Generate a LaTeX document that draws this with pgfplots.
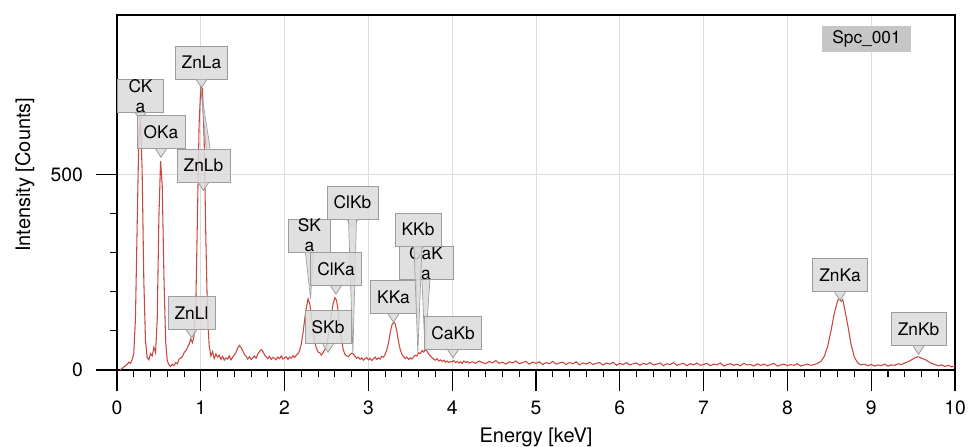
\documentclass[border=0pt]{standalone}
\usepackage{fontspec}
\setmainfont{TeX Gyre Heros}
\usepackage{pgfplots}
\pgfplotsset{compat=1.18}
\definecolor{spec}{HTML}{C9473E}
\definecolor{grd}{HTML}{DCDCDC}
\definecolor{labf}{HTML}{DADADA}
\definecolor{labd}{HTML}{9C9C9C}
\definecolor{tagf}{HTML}{C6C6C6}
\tikzset{
  lab/.style={draw=labd, fill=labf, fill opacity=0.85, text opacity=1, line width=0.6pt,
    inner xsep=5pt, inner ysep=0pt, minimum height=24.75pt, font=\fontsize{13}{15}\selectfont},
  notch/.style={fill=labf, fill opacity=0.85, draw=labd, line width=0.6pt},
}
% box label with a short notch under it
\newcommand{\peak}[4]{%
  \node[lab] (#3) at (axis cs:#1,#2) {#4};
  \path[notch] ([xshift=-4pt]#3.south) -- ([yshift=-6pt]#3.south) -- ([xshift=4pt]#3.south);
}
% two-line (wrapped) box label
\newcommand{\wpeak}[6]{%
  \node[lab, minimum width=#5] (#3) at (axis cs:#1,#2) {};
  \begin{scope}
    \clip (#3.south west) rectangle (#3.north east);
    \node[font=\fontsize{13}{15}\selectfont, align=center, inner sep=0pt] at (#3.center) {#4\\#6};
  \end{scope}
}
% long thin leader from a box down to a peak
\newcommand{\lead}[3]{%
  \path[notch, line width=0.5pt] ([xshift=-3pt]#1.south) -- (axis cs:#2,#3) -- ([xshift=3pt]#1.south);
}

\begin{document}
\begin{tikzpicture}
\begin{axis}[
  scale only axis, width=628.5pt, height=266.25pt,
  xmin=0, xmax=10, ymin=0, ymax=908,
  xtick={0,1,...,10}, ytick={0,500},
  minor x tick num=4, minor y tick num=4,
  tick pos=left, tick align=outside,
  major tick length=16pt, minor tick length=5pt,
  every tick/.style={black, line width=0.8pt},
  axis line style={black, line width=0.9pt},
  grid=major, major grid style={grd, line width=0.7pt},
  ticklabel style={font=\fontsize{14.5}{16}\selectfont},
  xticklabel style={yshift=-3.5pt},
  yticklabel style={xshift=-6pt},
  /pgf/number format/assume math mode=true,
  xlabel={Energy [keV]}, ylabel={Intensity [Counts]},
  label style={font=\fontsize{15}{17}\selectfont},
  xlabel style={at={(axis description cs:0.5,-0.19)}, anchor=center},
  ylabel style={at={(axis description cs:-0.11,0.55)}, anchor=center},
  clip=false,
]
\addplot[spec, line width=0.8pt] coordinates {
(0.04,0) (0.06,4) (0.08,7) (0.10,11) (0.12,14) (0.14,20) (0.16,17) (0.18,26) (0.20,42)
(0.22,130) (0.24,360) (0.26,590) (0.28,640) (0.30,510) (0.32,230) (0.34,75) (0.36,32)
(0.38,26) (0.40,42) (0.42,36) (0.44,58) (0.46,44) (0.48,130) (0.50,390) (0.52,535)
(0.54,470) (0.56,240) (0.58,75) (0.60,24) (0.62,13) (0.64,9) (0.66,15) (0.68,11)
(0.70,19) (0.72,16) (0.74,27) (0.76,31) (0.78,34) (0.80,44) (0.82,49) (0.84,57)
(0.86,66) (0.88,79) (0.90,70) (0.92,88) (0.94,160) (0.96,390) (0.98,630) (1.00,725)
(1.02,720) (1.04,590) (1.06,340) (1.08,140) (1.10,62) (1.12,36) (1.14,47) (1.16,29)
(1.18,41) (1.20,33) (1.22,38) (1.24,27) (1.26,35) (1.28,25) (1.30,31) (1.32,28)
(1.34,36) (1.36,26) (1.38,33) (1.40,38) (1.42,45) (1.44,56) (1.46,63) (1.48,58)
(1.50,49) (1.52,40) (1.54,35) (1.56,28) (1.58,34) (1.60,27) (1.62,31) (1.64,36)
(1.66,30) (1.68,41) (1.70,47) (1.72,52) (1.74,48) (1.76,39) (1.78,34) (1.80,29)
(1.82,35) (1.84,27) (1.86,32) (1.88,30) (1.90,26) (1.92,33) (1.94,29) (1.96,36)
(1.98,28) (2.00,31) (2.02,34) (2.04,27) (2.06,33) (2.08,30) (2.10,37) (2.12,32)
(2.14,38) (2.16,42) (2.18,50) (2.20,68) (2.22,95) (2.24,130) (2.26,160) (2.28,182)
(2.30,170) (2.32,140) (2.34,100) (2.36,72) (2.38,55) (2.40,46) (2.42,44) (2.44,38)
(2.46,45) (2.48,52) (2.50,60) (2.52,85) (2.54,115) (2.56,145) (2.58,170) (2.60,185)
(2.62,178) (2.64,150) (2.66,110) (2.68,75) (2.70,52) (2.72,40) (2.74,36) (2.76,34)
(2.78,39) (2.80,43) (2.82,41) (2.84,35) (2.86,30) (2.88,33) (2.90,27) (2.92,31)
(2.94,25) (2.96,29) (2.98,32) (3.00,26) (3.02,30) (3.04,24) (3.06,29) (3.08,33)
(3.10,27) (3.12,31) (3.14,28) (3.16,35) (3.18,33) (3.20,40) (3.22,52) (3.24,70)
(3.26,95) (3.28,115) (3.30,122) (3.32,118) (3.34,98) (3.36,72) (3.38,52) (3.40,40)
(3.42,34) (3.44,29) (3.46,33) (3.48,27) (3.50,31) (3.52,28) (3.54,34) (3.56,38)
(3.58,36) (3.60,44) (3.62,42) (3.64,50) (3.66,46) (3.68,53) (3.70,48) (3.72,41)
(3.74,36) (3.76,31) (3.78,28) (3.80,25) (3.82,29) (3.84,23) (3.86,26) (3.88,22)
(3.90,25) (3.92,20) (3.94,23) (3.96,19) (3.98,22) (4.00,21) (4.02,24) (4.04,19)
(4.06,22) (4.08,18) (4.10,21) (4.12,17) (4.14,23) (4.16,19) (4.18,22) (4.20,18)
(4.24,21) (4.28,17) (4.32,23) (4.36,19) (4.40,16) (4.44,22) (4.48,18) (4.52,24)
(4.56,17) (4.60,20) (4.64,15) (4.68,21) (4.72,18) (4.76,23) (4.80,16) (4.84,19)
(4.88,22) (4.92,15) (4.96,20) (5.00,17) (5.04,21) (5.08,14) (5.12,19) (5.16,16)
(5.20,22) (5.24,15) (5.28,18) (5.32,20) (5.36,14) (5.40,19) (5.44,16) (5.48,21)
(5.52,13) (5.56,18) (5.60,15) (5.64,20) (5.68,14) (5.72,17) (5.76,19) (5.80,13)
(5.84,18) (5.88,15) (5.92,20) (5.96,12) (6.00,17) (6.04,14) (6.08,19) (6.12,13)
(6.16,16) (6.20,18) (6.24,12) (6.28,17) (6.32,14) (6.36,19) (6.40,13) (6.44,15)
(6.48,18) (6.52,11) (6.56,16) (6.60,14) (6.64,19) (6.68,12) (6.72,15) (6.76,17)
(6.80,11) (6.84,16) (6.88,13) (6.92,18) (6.96,12) (7.00,14) (7.04,17) (7.08,11)
(7.12,15) (7.16,13) (7.20,18) (7.24,10) (7.28,14) (7.32,16) (7.36,12) (7.40,15)
(7.44,11) (7.48,17) (7.52,13) (7.56,14) (7.60,10) (7.64,16) (7.68,12) (7.72,15)
(7.76,11) (7.80,14) (7.84,17) (7.88,10) (7.92,13) (7.96,15) (8.00,11) (8.04,14)
(8.08,12) (8.12,16) (8.16,10) (8.20,13) (8.24,15) (8.28,12) (8.32,14) (8.36,17)
(8.40,22) (8.44,35) (8.48,60) (8.52,100) (8.56,145) (8.60,178) (8.62,182) (8.64,176)
(8.66,180) (8.68,160) (8.72,115) (8.76,65) (8.80,32) (8.84,18) (8.88,13) (8.92,15)
(8.96,11) (9.00,14) (9.04,10) (9.08,13) (9.12,11) (9.16,15) (9.20,10) (9.24,13)
(9.28,12) (9.32,16) (9.36,14) (9.40,18) (9.44,21) (9.48,26) (9.52,31) (9.56,34)
(9.60,30) (9.64,27) (9.68,22) (9.72,17) (9.76,14) (9.80,11) (9.84,13) (9.88,9)
(9.92,12) (9.96,8) (10.00,10)
};
% left axis line runs a little below zero
\draw[black, line width=0.9pt] (axis cs:0,0) -- ++(0,-12pt);
% peak labels
\wpeak{0.280}{701}{ck}{CK}{34pt}{a}
\path[notch] ([xshift=-4pt]ck.south) -- ([yshift=-5pt]ck.south) -- ([xshift=4pt]ck.south);
\peak{0.525}{608}{oka}{OKa}
\peak{1.008}{786}{znla}{ZnLa}
\peak{1.032}{523}{znlb}{ZnLb}
\path[notch, line width=0.5pt] ([xshift=2pt]znlb.north) -- (axis cs:1.00,722) -- ([xshift=5pt]znlb.north);
\peak{0.889}{146}{znll}{ZnLl}
\peak{2.518}{109}{skb}{SKb}
\wpeak{2.297}{344}{ska}{SK}{32pt}{a}
\lead{ska}{2.31}{182}
\peak{2.810}{428}{clkb}{ClKb}
\lead{clkb}{2.815}{44}
\peak{2.613}{258}{clka}{ClKa}
\peak{3.300}{186}{kka}{KKa}
\wpeak{3.687}{273}{caka}{CaK}{40.5pt}{a}
\lead{caka}{3.675}{51}
\peak{3.592}{359}{kkb}{KKb}
\lead{kkb}{3.59}{44}
\peak{4.010}{95}{cakb}{CaKb}
\peak{8.628}{242}{znka}{ZnKa}
\peak{9.565}{104}{znkb}{ZnKb}
\node[fill=tagf, inner xsep=8pt, minimum height=19.5pt, inner ysep=0pt,
  font=\fontsize{13}{15}\selectfont] at (axis cs:8.944,846) {Spc\_001};
\end{axis}
\pgfresetboundingbox
\path[use as bounding box] (-87.75pt,-57pt) rectangle (645pt,277.5pt);
\end{tikzpicture}
\end{document}
